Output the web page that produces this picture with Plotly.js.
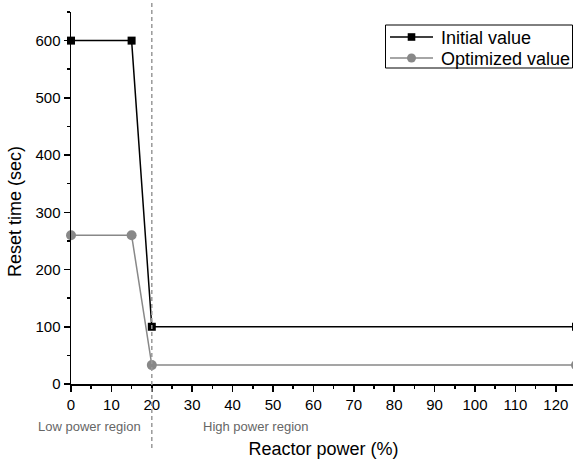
<!DOCTYPE html>
<html><head><meta charset="utf-8">
<script src="https://cdn.plot.ly/plotly-3.0.1.min.js"></script>
<style>html,body{margin:0;padding:0;overflow:hidden;background:#fff}</style>
</head><body><div id="chart"></div>
<script>
const power = [0, 15, 20, 125];
const initialValue = [600, 600, 100, 100];
const optimizedValue = [260, 260, 33, 33];
const seriesNames = ["Initial value", "Optimized value"];
const boundary = 20;
const regionLabels = ["Low power region", "High power region"];
const regionX = [4.6, 45.9];

const font = "Liberation Sans, Arial, sans-serif";
const colors = ["#000", "#888"];
const traces = [
  {x: power, y: initialValue, name: seriesNames[0], mode: "lines+markers",
   line: {color: colors[0], width: 1.5}, marker: {symbol: "square", size: 8, color: colors[0]}, cliponaxis: false},
  {x: power, y: optimizedValue, name: seriesNames[1], mode: "lines+markers",
   line: {color: colors[1], width: 1.5}, marker: {symbol: "circle", size: 10, color: colors[1]}, cliponaxis: false}
];

// plot area geometry in px (for converting the hand-built legend into paper coordinates)
const W = 576, H = 459, L = 71, R = 0, T = 12, B = 75;
const px = v => (v - L) / (W - L - R);
const py = v => (H - B - v) / (H - T - B);

const annotations = regionLabels.map((t, i) => ({text: t, x: regionX[i], xref: "x", y: -0.113, yref: "paper",
    showarrow: false, xanchor: "center", yanchor: "middle", font: {size: 13, color: "#666", family: font}}));
annotations.push({text: "Reset time (sec)", textangle: -90, xref: "paper", yref: "paper", x: px(15), y: py(212),
  xanchor: "center", yanchor: "middle", showarrow: false, font: {size: 18, color: "#000", family: font}});

const shapes = [{type: "line", xref: "x", yref: "paper", x0: boundary, x1: boundary, y0: -0.172, y1: 1.024,
    line: {color: "#999", width: 1.5, dash: "4px,3px"}, layer: "above"}];
// legend box
shapes.push({type: "rect", xref: "paper", yref: "paper", x0: px(385.5), x1: px(572.5), y0: py(68), y1: py(25),
  line: {color: "#000", width: 1}, fillcolor: "#fff", layer: "above"});
const rowY = [37, 58];
seriesNames.forEach((n, i) => {
  shapes.push({type: "line", xref: "paper", yref: "paper", x0: px(390), x1: px(433), y0: py(rowY[i]), y1: py(rowY[i]),
    line: {color: colors[i], width: 1.5}, layer: "above"});
  const r = i === 0 ? 3.8 : 4.5;
  shapes.push({type: i === 0 ? "rect" : "circle", xref: "paper", yref: "paper", x0: px(411.5 - r), x1: px(411.5 + r),
    y0: py(rowY[i] + r), y1: py(rowY[i] - r), line: {width: 0}, fillcolor: colors[i], layer: "above"});
  annotations.push({text: n, xref: "paper", yref: "paper", x: px(439), y: py(rowY[i] + 0.5), xanchor: "left", yanchor: "middle",
    showarrow: false, font: {size: 18, color: "#000", family: font}});
});

const layout = {
  width: W, height: H,
  margin: {l: L, r: R, t: T, b: B},
  paper_bgcolor: "#fff", plot_bgcolor: "#fff",
  font: {family: font, color: "#000"},
  showlegend: false,
  xaxis: {range: [0, 125], tickvals: [0,10,20,30,40,50,60,70,80,90,100,110,120], showgrid: false, zeroline: false,
    showline: true, linecolor: "#000", linewidth: 1.5, ticks: "outside", ticklen: 6, tickwidth: 1.5, tickcolor: "#000",
    minor: {dtick: 5, ticks: "outside", ticklen: 3, tickwidth: 1.5, tickcolor: "#000", showgrid: false},
    tickfont: {size: 15, family: font},
    title: {text: "Reactor power (%)", font: {size: 18, family: font}, standoff: 33}},
  yaxis: {range: [0, 650], tickvals: [0,100,200,300,400,500,600], showgrid: false, zeroline: false,
    showline: true, linecolor: "#000", linewidth: 1.5, ticks: "outside", ticklen: 6, tickwidth: 1.5, tickcolor: "#000",
    minor: {dtick: 50, ticks: "outside", ticklen: 3, tickwidth: 1.5, tickcolor: "#000", showgrid: false},
    tickfont: {size: 15, family: font}},
  shapes: shapes,
  annotations: annotations
};
Plotly.newPlot("chart", traces, layout, {displayModeBar: false, staticPlot: true});
</script></body></html>
